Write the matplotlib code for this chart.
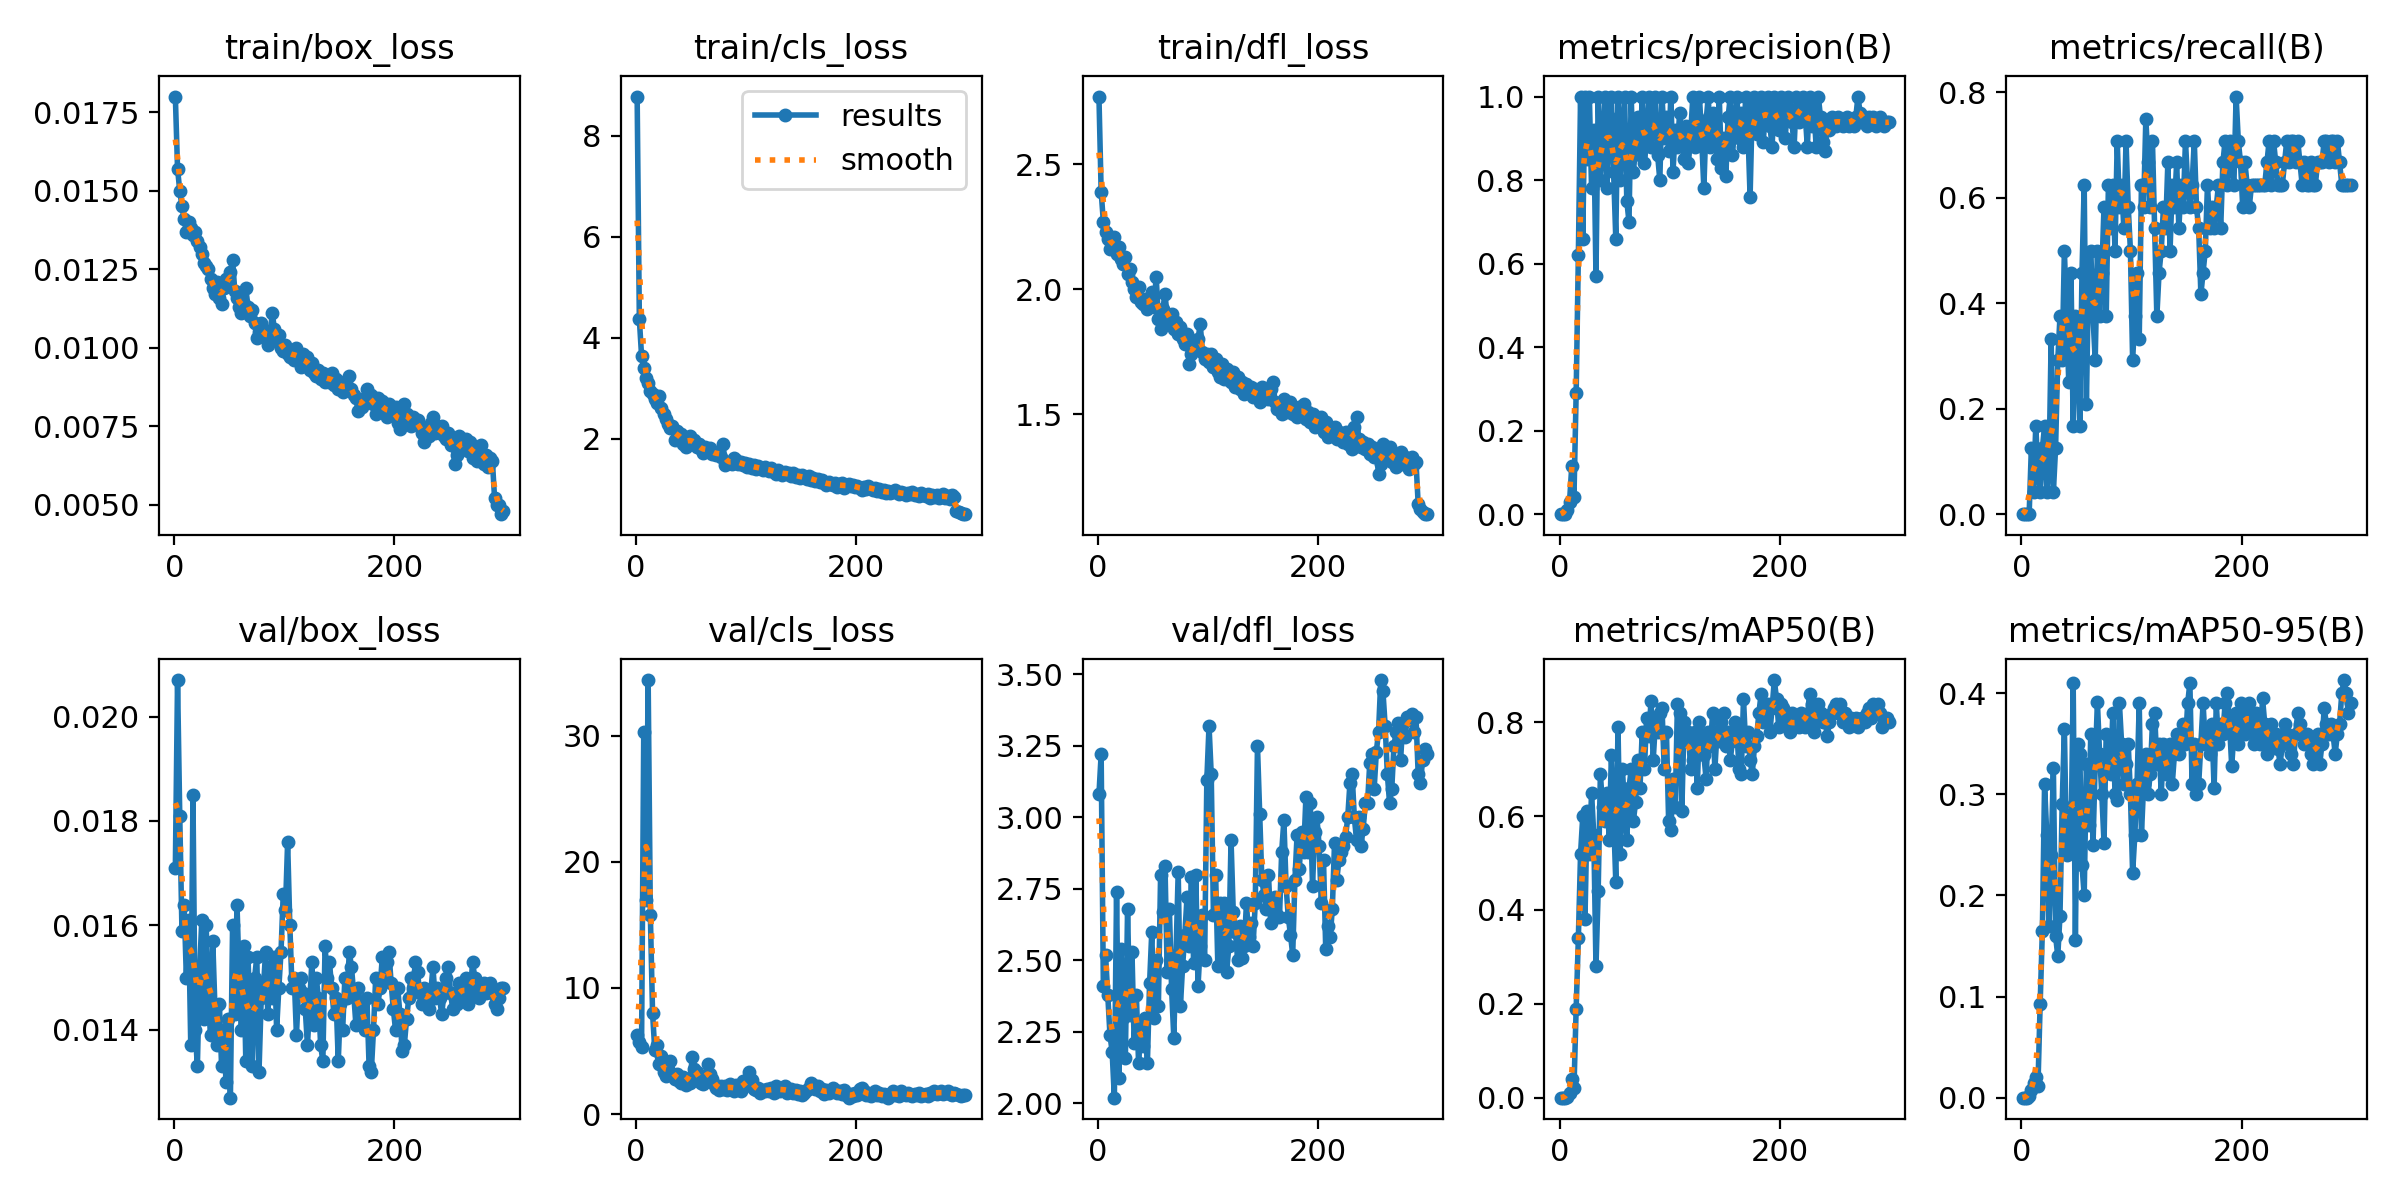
import numpy as np
import matplotlib
matplotlib.use("Agg")
import matplotlib.pyplot as plt

plt.rcParams["font.size"] = 11

# epochs sampled every 2nd epoch (1, 3, ..., 299)
epochs = np.arange(1, 301, 2)

train_box_loss = [
    0.0180, 0.0157, 0.0150, 0.0145, 0.0141, 0.0137, 0.0140, 0.0138, 0.0136, 0.0137,
    0.0134, 0.0132, 0.0130, 0.0127, 0.0126, 0.0125, 0.0122, 0.0119, 0.0117, 0.0121,
    0.0116, 0.0114, 0.0119, 0.0122, 0.0120, 0.0124, 0.0128, 0.0118, 0.0116, 0.0113,
    0.0111, 0.0114, 0.0119, 0.0113, 0.0110, 0.0112, 0.0108, 0.0103, 0.0105, 0.0108,
    0.0106, 0.0103, 0.0101, 0.0104, 0.0111, 0.0106, 0.0102, 0.0104, 0.0100, 0.0099,
    0.0101, 0.0098, 0.0097, 0.0099, 0.0096, 0.0100, 0.0097, 0.0094, 0.0098, 0.0095,
    0.0097, 0.0093, 0.0095, 0.0092, 0.0091, 0.0093, 0.0090, 0.0092, 0.0089, 0.0091,
    0.0089, 0.0092, 0.0088, 0.0090, 0.0087, 0.0089, 0.0086, 0.0088, 0.0087, 0.0091,
    0.0087, 0.0085, 0.0084, 0.0080, 0.0083, 0.0081, 0.0084, 0.0087, 0.0083, 0.0085,
    0.0082, 0.0079, 0.0084, 0.0081, 0.0083, 0.0080, 0.0078, 0.0082, 0.0080, 0.0079,
    0.0081, 0.0076, 0.0074, 0.0078, 0.0082, 0.0079, 0.0077, 0.0075, 0.0078, 0.0076,
    0.0077, 0.0075, 0.0073, 0.0070, 0.0074, 0.0072, 0.0076, 0.0078, 0.0073, 0.0075,
    0.0073, 0.0075, 0.0072, 0.0071, 0.0073, 0.0069, 0.0071, 0.0063, 0.0066, 0.0072,
    0.0070, 0.0068, 0.0071, 0.0067, 0.0070, 0.0065, 0.0068, 0.0064, 0.0067, 0.0069,
    0.0063, 0.0066, 0.0062, 0.0065, 0.0064, 0.0052, 0.0050, 0.0050, 0.0047, 0.0048,
]

train_cls_loss = [
    8.78, 4.37, 3.65, 3.40, 3.20, 3.10, 2.95, 2.88, 2.80, 2.72,
    2.85, 2.62, 2.50, 2.40, 2.30, 2.22, 2.25, 1.98, 2.15, 2.05,
    2.10, 1.90, 1.85, 2.00, 2.05, 1.92, 1.98, 1.85, 1.90, 1.80,
    1.72, 1.85, 1.78, 1.82, 1.70, 1.75, 1.68, 1.72, 1.65, 1.90,
    1.48, 1.55, 1.52, 1.50, 1.62, 1.58, 1.50, 1.55, 1.48, 1.52,
    1.45, 1.50, 1.43, 1.48, 1.40, 1.46, 1.42, 1.38, 1.44, 1.40,
    1.36, 1.42, 1.35, 1.30, 1.38, 1.33, 1.28, 1.35, 1.30, 1.32,
    1.27, 1.32, 1.25, 1.29, 1.22, 1.28, 1.24, 1.20, 1.26, 1.18,
    1.22, 1.16, 1.20, 1.14, 1.18, 1.12, 1.08, 1.15, 1.11, 1.08,
    1.12, 1.05, 1.10, 1.13, 1.02, 1.08, 1.11, 1.06, 1.09, 1.04,
    1.07, 1.02, 0.98, 1.05, 1.01, 1.07, 1.03, 0.99, 1.02, 0.97,
    1.00, 0.95, 0.98, 0.93, 0.97, 0.92, 0.95, 0.99, 0.94, 0.91,
    0.95, 0.92, 0.89, 0.93, 0.90, 0.94, 0.88, 0.91, 0.87, 0.92,
    0.89, 0.86, 0.90, 0.84, 0.88, 0.85, 0.89, 0.83, 0.86, 0.90,
    0.84, 0.87, 0.82, 0.88, 0.85, 0.58, 0.55, 0.53, 0.52, 0.51,
]

train_dfl_loss = [
    2.77, 2.39, 2.27, 2.23, 2.20, 2.16, 2.19, 2.21, 2.14, 2.17,
    2.12, 2.10, 2.13, 2.06, 2.08, 2.03, 2.00, 1.97, 2.01, 1.95,
    1.94, 1.96, 1.92, 1.95, 1.99, 1.93, 2.05, 1.88, 1.84, 1.92,
    1.98, 1.89, 1.86, 1.90, 1.84, 1.87, 1.82, 1.85, 1.80, 1.78,
    1.82, 1.70, 1.74, 1.78, 1.76, 1.80, 1.86, 1.75, 1.72, 1.74,
    1.71, 1.74, 1.69, 1.72, 1.67, 1.65, 1.70, 1.64, 1.68, 1.66,
    1.63, 1.67, 1.61, 1.65, 1.60, 1.63, 1.58, 1.62, 1.59, 1.61,
    1.57, 1.60, 1.58, 1.55, 1.61, 1.57, 1.59, 1.56, 1.60, 1.63,
    1.55, 1.52, 1.54, 1.50, 1.56, 1.53, 1.51, 1.55, 1.50, 1.52,
    1.49, 1.53, 1.50, 1.54, 1.48, 1.51, 1.47, 1.50, 1.45, 1.48,
    1.46, 1.49, 1.43, 1.47, 1.41, 1.44, 1.42, 1.45, 1.40, 1.43,
    1.42, 1.39, 1.43, 1.38, 1.41, 1.36, 1.45, 1.49, 1.40, 1.37,
    1.39, 1.36, 1.38, 1.34, 1.37, 1.33, 1.35, 1.26, 1.30, 1.38,
    1.36, 1.33, 1.37, 1.31, 1.34, 1.29, 1.32, 1.35, 1.30, 1.33,
    1.31, 1.28, 1.33, 1.30, 1.31, 1.14, 1.12, 1.11, 1.10, 1.10,
]

precision = [
    0.00, 0.00, 0.00, 0.01, 0.03, 0.115, 0.04, 0.29, 0.62, 1.00,
    0.66, 1.00, 0.85, 1.00, 0.78, 0.92, 0.57, 1.00, 0.80, 0.88,
    1.00, 0.78, 0.95, 1.00, 0.82, 0.66, 1.00, 0.80, 0.92, 1.00,
    0.75, 0.70, 1.00, 0.82, 0.88, 0.95, 0.86, 1.00, 0.84, 0.90,
    1.00, 0.88, 0.94, 1.00, 0.86, 0.80, 1.00, 0.90, 0.95, 0.87,
    1.00, 0.82, 0.92, 0.88, 0.96, 0.90, 0.85, 0.93, 0.84, 0.91,
    1.00, 0.88, 0.95, 1.00, 0.90, 0.78, 0.94, 1.00, 0.88, 0.96,
    0.92, 0.85, 1.00, 0.83, 0.90, 0.81, 0.95, 1.00, 0.86, 0.93,
    1.00, 0.90, 0.96, 0.88, 1.00, 0.92, 0.76, 0.98, 1.00, 0.91,
    0.95, 1.00, 0.89, 0.98, 1.00, 0.93, 0.88, 1.00, 0.96, 0.92,
    1.00, 0.95, 0.90, 1.00, 0.97, 0.94, 0.88, 1.00, 0.94, 0.98,
    1.00, 0.96, 0.88, 1.00, 0.93, 0.97, 0.88, 1.00, 0.95, 0.89,
    0.87, 0.93, 0.92, 0.95, 0.94, 0.93, 0.95, 0.94, 0.93, 0.94,
    0.95, 0.93, 0.94, 0.93, 0.95, 1.00, 0.96, 0.94, 0.95, 0.93,
    0.95, 0.94, 0.95, 0.93, 0.94, 0.95, 0.94, 0.93, 0.94, 0.94,
]

recall = [
    0.000, 0.000, 0.000, 0.000, 0.125, 0.042, 0.167, 0.083, 0.042, 0.125,
    0.167, 0.042, 0.083, 0.333, 0.042, 0.125, 0.292, 0.375, 0.292, 0.500,
    0.375, 0.250, 0.458, 0.167, 0.375, 0.333, 0.167, 0.458, 0.625, 0.208,
    0.458, 0.500, 0.375, 0.292, 0.500, 0.375, 0.458, 0.583, 0.375, 0.625,
    0.542, 0.625, 0.500, 0.708, 0.583, 0.625, 0.542, 0.708, 0.583, 0.500,
    0.292, 0.375, 0.458, 0.333, 0.625, 0.583, 0.750, 0.667, 0.583, 0.708,
    0.542, 0.375, 0.458, 0.500, 0.583, 0.542, 0.667, 0.500, 0.625, 0.583,
    0.667, 0.542, 0.625, 0.583, 0.708, 0.625, 0.583, 0.625, 0.708, 0.583,
    0.542, 0.417, 0.458, 0.500, 0.625, 0.542, 0.583, 0.542, 0.583, 0.625,
    0.542, 0.667, 0.708, 0.625, 0.708, 0.667, 0.625, 0.792, 0.708, 0.667,
    0.583, 0.667, 0.625, 0.583, 0.625, 0.625, 0.625, 0.625, 0.625, 0.625,
    0.625, 0.667, 0.708, 0.625, 0.708, 0.667, 0.625, 0.625, 0.625, 0.667,
    0.708, 0.667, 0.708, 0.708, 0.667, 0.708, 0.667, 0.625, 0.667, 0.625,
    0.625, 0.667, 0.625, 0.625, 0.667, 0.667, 0.667, 0.708, 0.708, 0.667,
    0.708, 0.708, 0.667, 0.708, 0.667, 0.625, 0.625, 0.625, 0.625, 0.625,
]

val_box_loss = [
    0.0171, 0.0207, 0.0181, 0.0159, 0.0164, 0.0150, 0.0161, 0.0137, 0.0185, 0.0140,
    0.0133, 0.0151, 0.0161, 0.0142, 0.0160, 0.0145, 0.0139, 0.0157, 0.0144, 0.0137,
    0.0145, 0.0133, 0.0140, 0.0130, 0.0142, 0.0127, 0.0160, 0.0143, 0.0164, 0.0150,
    0.0140, 0.0156, 0.0134, 0.0154, 0.0141, 0.0133, 0.0150, 0.0154, 0.0132, 0.0146,
    0.0148, 0.0155, 0.0143, 0.0152, 0.0146, 0.0154, 0.0140, 0.0148, 0.0155, 0.0166,
    0.0163, 0.0176, 0.0160, 0.0148, 0.0150, 0.0139, 0.0148, 0.0150, 0.0147, 0.0144,
    0.0137, 0.0145, 0.0153, 0.0141, 0.0150, 0.0146, 0.0137, 0.0134, 0.0156, 0.0150,
    0.0153, 0.0148, 0.0143, 0.0146, 0.0134, 0.0145, 0.0140, 0.0150, 0.0146, 0.0155,
    0.0152, 0.0147, 0.0141, 0.0148, 0.0145, 0.0143, 0.0140, 0.0146, 0.0133, 0.0132,
    0.0140, 0.0150, 0.0145, 0.0148, 0.0154, 0.0150, 0.0153, 0.0155, 0.0149, 0.0144,
    0.0140, 0.0148, 0.0143, 0.0136, 0.0137, 0.0142, 0.0146, 0.0150, 0.0148, 0.0153,
    0.0151, 0.0147, 0.0145, 0.0148, 0.0146, 0.0144, 0.0147, 0.0152, 0.0146, 0.0148,
    0.0146, 0.0143, 0.0147, 0.0150, 0.0152, 0.0147, 0.0144, 0.0146, 0.0145, 0.0149,
    0.0148, 0.0146, 0.0150, 0.0145, 0.0147, 0.0153, 0.0150, 0.0148, 0.0146, 0.0148,
    0.0149, 0.0147, 0.0148, 0.0149, 0.0147, 0.0145, 0.0144, 0.0146, 0.0148, 0.0148,
]

val_cls_loss = [
    6.3, 5.7, 5.3, 30.3, 17.0, 34.4, 15.8, 8.0, 5.1, 5.5,
    4.0, 4.6, 3.3, 3.0, 3.6, 4.2, 3.1, 2.8, 3.2, 2.6,
    2.5, 2.9, 2.3, 2.7, 2.5, 4.5, 3.6, 3.3, 2.8, 2.5,
    2.4, 3.0, 4.0, 3.2, 2.8, 2.4, 2.1, 1.9, 2.2, 2.0,
    2.2, 1.9, 2.4, 2.1, 1.8, 2.3, 2.0, 1.8, 2.6, 2.2,
    2.5, 3.3, 2.7, 2.0, 1.9, 2.1, 1.7, 1.9, 1.8, 2.0,
    1.8, 2.1, 1.7, 2.2, 2.0, 1.8, 1.9, 2.2, 1.7, 1.8,
    2.0, 1.7, 1.9, 1.6, 1.8, 1.5, 1.7, 1.9, 2.1, 2.5,
    2.3, 2.0, 2.2, 1.8, 2.0, 1.6, 1.9, 1.7, 1.8, 2.1,
    1.9, 1.7, 1.8, 1.6, 1.9, 1.5, 1.3, 1.6, 1.4, 1.7,
    1.5, 2.0, 2.1, 1.8, 1.5, 1.7, 1.4, 1.6, 1.8, 1.5,
    1.7, 1.4, 1.6, 1.5, 1.3, 1.6, 1.8, 1.5, 1.6, 1.4,
    1.8, 1.6, 1.5, 1.7, 1.5, 1.4, 1.6, 1.5, 1.7, 1.4,
    1.5, 1.6, 1.4, 1.7, 1.6, 1.8, 1.6, 1.7, 1.8, 1.6,
    1.7, 1.8, 1.6, 1.5, 1.7, 1.6, 1.5, 1.4, 1.5, 1.5,
]

val_dfl_loss = [
    3.08, 3.22, 2.41, 2.52, 2.38, 2.24, 2.18, 2.02, 2.74, 2.09,
    2.54, 2.30, 2.16, 2.68, 2.31, 2.53, 2.21, 2.38, 2.14, 2.27,
    2.20, 2.30, 2.14, 2.42, 2.60, 2.30, 2.50, 2.34, 2.80, 2.67,
    2.83, 2.46, 2.68, 2.40, 2.23, 2.52, 2.81, 2.34, 2.48, 2.59,
    2.72, 2.55, 2.79, 2.49, 2.80, 2.41, 2.55, 2.66, 2.50, 3.13,
    3.32, 3.15, 2.66, 2.80, 2.48, 2.70, 2.52, 2.70, 2.46, 2.55,
    2.92, 2.67, 2.60, 2.50, 2.62, 2.51, 2.55, 2.70, 2.58, 2.63,
    2.55, 2.70, 3.25, 3.01, 2.78, 2.73, 2.68, 2.80, 2.63, 2.69,
    2.72, 2.66, 2.65, 2.88, 2.99, 2.76, 2.65, 2.59, 2.52, 2.78,
    2.94, 2.82, 2.95, 2.88, 3.07, 2.88, 3.05, 2.76, 2.95, 3.00,
    2.90, 2.70, 2.85, 2.54, 2.62, 2.58, 2.68, 2.91, 2.78, 2.85,
    2.88, 2.90, 2.93, 3.00, 3.12, 3.15, 3.00, 2.92, 3.00, 2.90,
    2.96, 3.05, 3.05, 3.19, 3.22, 3.10, 3.23, 3.30, 3.48, 3.44,
    3.32, 3.15, 3.05, 3.10, 3.25, 3.30, 3.33, 3.20, 3.33, 3.28,
    3.35, 3.34, 3.36, 3.30, 3.35, 3.15, 3.12, 3.20, 3.24, 3.22,
]

map50 = [
    0.000, 0.000, 0.000, 0.002, 0.010, 0.040, 0.020, 0.190, 0.340, 0.520,
    0.600, 0.380, 0.610, 0.520, 0.650, 0.560, 0.280, 0.440, 0.690, 0.620,
    0.590, 0.650, 0.550, 0.730, 0.600, 0.460, 0.790, 0.520, 0.700, 0.620,
    0.550, 0.660, 0.700, 0.590, 0.630, 0.720, 0.660, 0.780, 0.700, 0.810,
    0.770, 0.845, 0.720, 0.800, 0.780, 0.820, 0.830, 0.700, 0.780, 0.590,
    0.570, 0.680, 0.620, 0.840, 0.820, 0.610, 0.800, 0.760, 0.780, 0.700,
    0.720, 0.780, 0.660, 0.800, 0.760, 0.730, 0.680, 0.780, 0.750, 0.820,
    0.700, 0.780, 0.760, 0.800, 0.820, 0.750, 0.780, 0.720, 0.760, 0.800,
    0.780, 0.700, 0.690, 0.850, 0.750, 0.780, 0.720, 0.690, 0.750, 0.770,
    0.820, 0.860, 0.800, 0.820, 0.840, 0.780, 0.830, 0.890, 0.850, 0.790,
    0.840, 0.830, 0.810, 0.800, 0.780, 0.820, 0.790, 0.800, 0.790, 0.820,
    0.800, 0.790, 0.810, 0.860, 0.840, 0.780, 0.800, 0.840, 0.820, 0.800,
    0.810, 0.770, 0.800, 0.820, 0.830, 0.840, 0.820, 0.840, 0.800, 0.820,
    0.800, 0.790, 0.810, 0.800, 0.810, 0.790, 0.800, 0.810, 0.800, 0.820,
    0.830, 0.810, 0.840, 0.830, 0.840, 0.820, 0.790, 0.800, 0.810, 0.800,
]

map50_95 = [
    0.000, 0.000, 0.000, 0.002, 0.008, 0.015, 0.020, 0.012, 0.093, 0.165,
    0.310, 0.260, 0.170, 0.240, 0.326, 0.160, 0.140, 0.180, 0.290, 0.365,
    0.240, 0.280, 0.250, 0.410, 0.156, 0.350, 0.340, 0.230, 0.200, 0.330,
    0.270, 0.360, 0.250, 0.330, 0.391, 0.340, 0.300, 0.252, 0.360, 0.340,
    0.320, 0.380, 0.300, 0.294, 0.390, 0.350, 0.310, 0.330, 0.350, 0.300,
    0.222, 0.260, 0.310, 0.390, 0.260, 0.310, 0.340, 0.300, 0.320, 0.370,
    0.380, 0.330, 0.350, 0.300, 0.350, 0.320, 0.330, 0.350, 0.310, 0.340,
    0.360, 0.340, 0.350, 0.370, 0.350, 0.390, 0.410, 0.310, 0.350, 0.300,
    0.310, 0.350, 0.390, 0.350, 0.360, 0.340, 0.370, 0.306, 0.390, 0.350,
    0.370, 0.360, 0.390, 0.400, 0.370, 0.328, 0.360, 0.380, 0.350, 0.390,
    0.370, 0.360, 0.380, 0.390, 0.370, 0.350, 0.380, 0.370, 0.350, 0.395,
    0.370, 0.340, 0.360, 0.370, 0.350, 0.360, 0.345, 0.330, 0.350, 0.370,
    0.360, 0.350, 0.340, 0.330, 0.360, 0.380, 0.370, 0.360, 0.350, 0.360,
    0.350, 0.340, 0.330, 0.350, 0.360, 0.330, 0.350, 0.385, 0.370, 0.360,
    0.370, 0.360, 0.340, 0.360, 0.370, 0.400, 0.413, 0.400, 0.380, 0.390,
]

titles = [
    "train/box_loss", "train/cls_loss", "train/dfl_loss",
    "metrics/precision(B)", "metrics/recall(B)",
    "val/box_loss", "val/cls_loss", "val/dfl_loss",
    "metrics/mAP50(B)", "metrics/mAP50-95(B)",
]
series = [
    train_box_loss, train_cls_loss, train_dfl_loss, precision, recall,
    val_box_loss, val_cls_loss, val_dfl_loss, map50, map50_95,
]


def gaussian_smooth(y, sigma):
    # same as scipy gaussian_filter1d with mode='reflect'
    y = np.asarray(y, dtype=float)
    r = int(4.0 * sigma + 0.5)
    k = np.arange(-r, r + 1)
    w = np.exp(-0.5 * (k / sigma) ** 2)
    w /= w.sum()
    yp = np.pad(y, r, mode="symmetric")
    return np.convolve(yp, w, mode="valid")


fig, ax = plt.subplots(2, 5, figsize=(12, 6), tight_layout=True)
ax = ax.ravel()
for i, (title, y) in enumerate(zip(titles, series)):
    y = np.asarray(y, dtype=float)
    ax[i].plot(epochs, y, marker=".", label="results", linewidth=2, markersize=8)
    # sigma=3 epochs -> 1.5 samples at 2-epoch spacing
    ax[i].plot(epochs, gaussian_smooth(y, 1.5), ":", label="smooth", linewidth=2)
    ax[i].set_title(title, fontsize=12)
ax[1].legend()

fig.savefig("out.png", dpi=200)
plt.close()
